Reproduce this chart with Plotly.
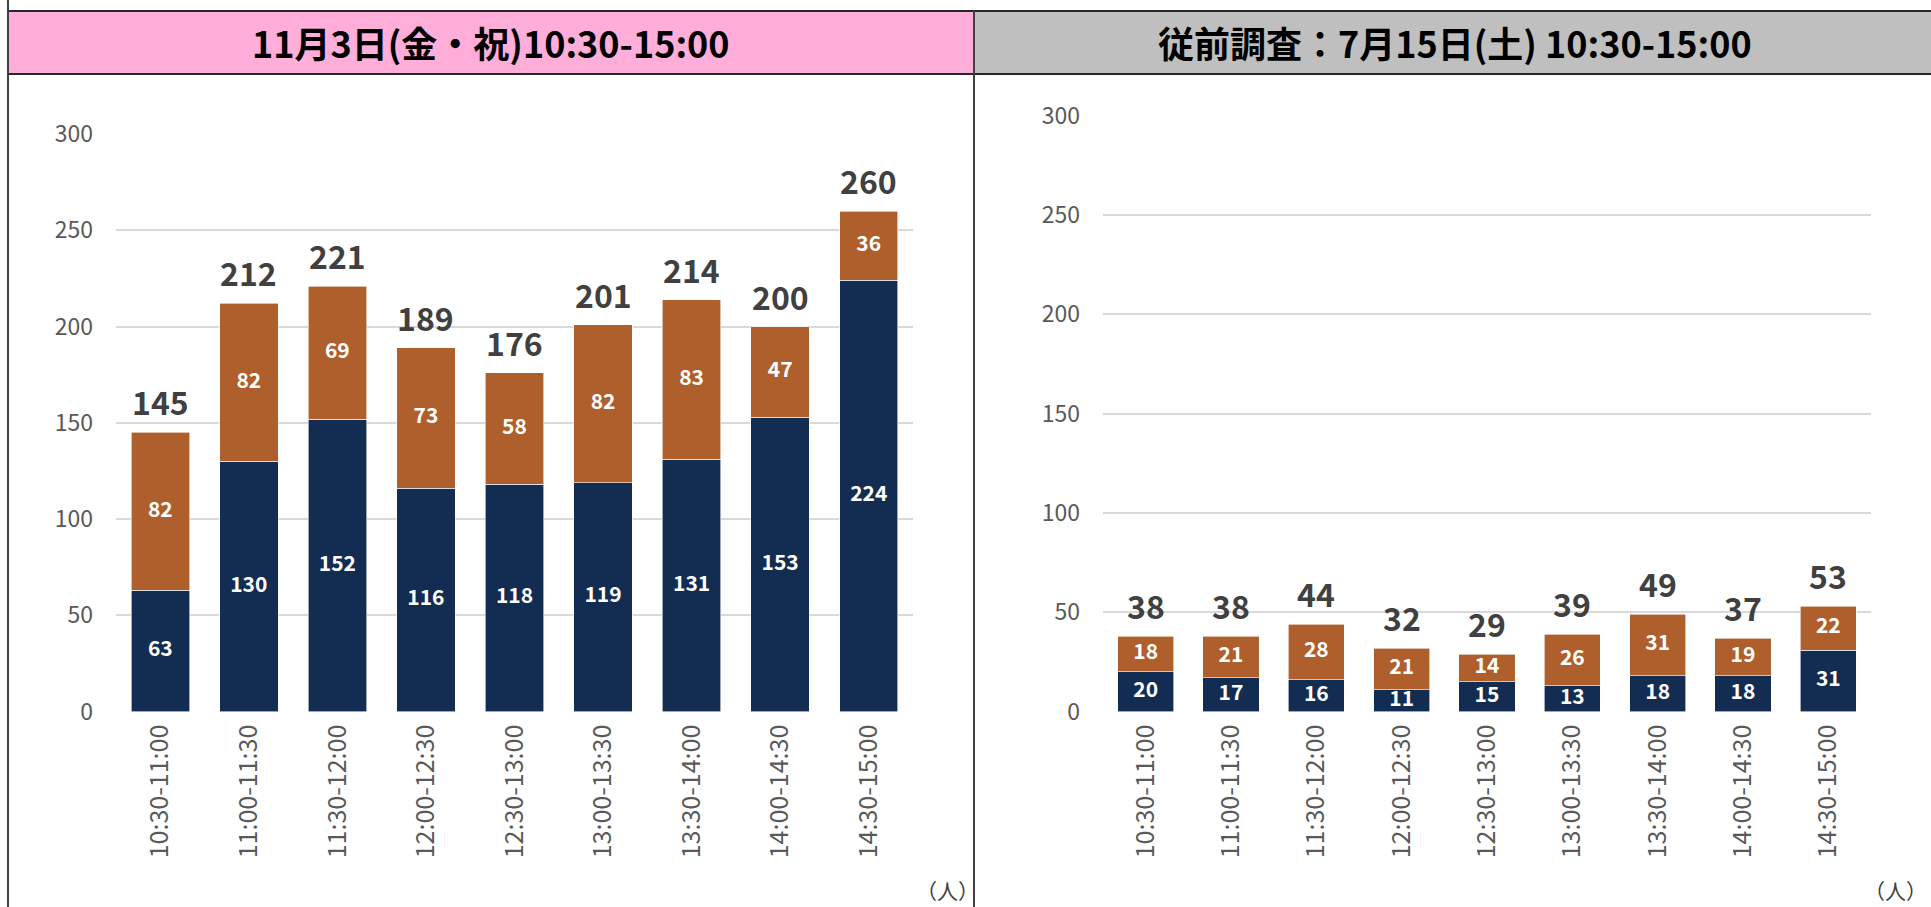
import plotly.graph_objects as go

# ---------------- data ----------------
time_slots = ["10:30-11:00", "11:00-11:30", "11:30-12:00", "12:00-12:30", "12:30-13:00",
              "13:00-13:30", "13:30-14:00", "14:00-14:30", "14:30-15:00"]

nov_navy = [63, 130, 152, 116, 118, 119, 131, 153, 224]
nov_orange = [82, 82, 69, 73, 58, 82, 83, 47, 36]

jul_navy = [20, 17, 16, 11, 15, 13, 18, 18, 31]
jul_orange = [18, 21, 28, 21, 14, 26, 31, 19, 22]

nov_title = "11月3日(金・祝)10:30-15:00"
jul_title = "従前調査：7月15日(土) 10:30-15:00"
unit_label = "（人）"
y_ticks = [0, 50, 100, 150, 200, 250, 300]

# ---------------- style ----------------
W, H = 1931, 907
FONT = "Noto Sans CJK JP"
NAVY = "#132C52"
ORANGE = "#AE5F2B"
GRID = "#D9D9D9"
TICK = "#595959"
DARK = "#404040"


def px(x):
    return x / W


def py(y):
    return 1 - y / H


fig = go.Figure()

panels = [
    dict(navy=nov_navy, orange=nov_orange, xa="x", ya="y"),
    dict(navy=jul_navy, orange=jul_orange, xa="x2", ya="y2"),
]

annotations = []
for p in panels:
    navy, orange, xa, ya = p["navy"], p["orange"], p["xa"], p["ya"]
    totals = [a + b for a, b in zip(navy, orange)]
    fig.add_trace(go.Bar(x=time_slots, y=navy, marker=dict(color=NAVY, line=dict(color="#FFFFFF", width=0.6)),
                         xaxis=xa, yaxis=ya, showlegend=False, hoverinfo="skip"))
    fig.add_trace(go.Bar(x=time_slots, y=orange, marker=dict(color=ORANGE, line=dict(color="#FFFFFF", width=0.6)),
                         xaxis=xa, yaxis=ya, showlegend=False, hoverinfo="skip"))
    # inside labels
    fig.add_trace(go.Scatter(x=time_slots, y=[v / 2 for v in navy], mode="text",
                             text=[str(v) for v in navy],
                             textfont=dict(family=FONT, size=21, color="#FFFFFF", weight="bold"),
                             xaxis=xa, yaxis=ya, showlegend=False, hoverinfo="skip"))
    fig.add_trace(go.Scatter(x=time_slots, y=[a + b / 2 for a, b in zip(navy, orange)], mode="text",
                             text=[str(v) for v in orange],
                             textfont=dict(family=FONT, size=21, color="#FFFFFF", weight="bold"),
                             xaxis=xa, yaxis=ya, showlegend=False, hoverinfo="skip"))
    for cat, t in zip(time_slots, totals):
        annotations.append(dict(x=cat, y=t, xref=xa, yref=ya, text=str(t), showarrow=False,
                                yanchor="bottom", yshift=6,
                                font=dict(family=FONT, size=32, color=DARK, weight="bold")))

yaxis_common = dict(
    range=[0, 300], tickvals=y_ticks, showgrid=True, gridcolor=GRID, gridwidth=1.6,
    zeroline=False, showline=False, ticks="", automargin=False,
    tickfont=dict(family=FONT, size=23, color=TICK),
    ticklabelstandoff=22, fixedrange=True,
)
xaxis_common = dict(
    showgrid=False, zeroline=False, showline=False, ticks="", tickangle=-90, automargin=False,
    tickfont=dict(family=FONT, size=25, color=TICK), ticklabelstandoff=7,
)

fig.update_layout(
    width=W, height=H,
    margin=dict(l=0, r=0, t=0, b=0, pad=0, autoexpand=False),
    paper_bgcolor="#FFFFFF", plot_bgcolor="#FFFFFF",
    barmode="stack", bargap=0.34,
    showlegend=False,
    xaxis=dict(domain=[px(116), px(913)], anchor="y", **xaxis_common),
    yaxis=dict(domain=[py(711.7), py(134)], anchor="x", **yaxis_common),
    xaxis2=dict(domain=[px(1103), px(1871)], anchor="y2", **xaxis_common),
    yaxis2=dict(domain=[py(711.7), py(115.5)], anchor="x2", **yaxis_common),
)

# headers and frame
shapes = [
    dict(type="rect", xref="paper", yref="paper", x0=px(8), x1=px(974), y0=py(74), y1=py(11),
         fillcolor="#FFADD9", line=dict(color="#262626", width=2), layer="below"),
    dict(type="rect", xref="paper", yref="paper", x0=px(974), x1=px(1935), y0=py(74), y1=py(11),
         fillcolor="#BFBFBF", line=dict(color="#262626", width=2), layer="below"),
    dict(type="line", xref="paper", yref="paper", x0=px(8), x1=px(8), y0=0, y1=1,
         line=dict(color="#404040", width=2)),
    dict(type="line", xref="paper", yref="paper", x0=px(974), x1=px(974), y0=0, y1=py(11),
         line=dict(color="#404040", width=2)),
]

annotations += [
    dict(x=px(491), y=py(42.5), xref="paper", yref="paper", text=nov_title, showarrow=False,
         xanchor="center", yanchor="middle",
         font=dict(family=FONT, size=36, color="#000000", weight="bold")),
    dict(x=px(1455), y=py(42.5), xref="paper", yref="paper", text=jul_title, showarrow=False,
         xanchor="center", yanchor="middle",
         font=dict(family=FONT, size=36, color="#000000", weight="bold")),
    dict(x=px(947), y=py(890), xref="paper", yref="paper", text=unit_label, showarrow=False,
         xanchor="center", yanchor="middle",
         font=dict(family=FONT, size=21, color=DARK)),
    dict(x=px(1929), y=py(890), xref="paper", yref="paper", text=unit_label, showarrow=False,
         xanchor="right", yanchor="middle",
         font=dict(family=FONT, size=21, color=DARK)),
]

fig.update_layout(shapes=shapes, annotations=annotations)

fig.write_html("out.html", config={"displayModeBar": False},
               post_script="document.body.style.margin='0';")
